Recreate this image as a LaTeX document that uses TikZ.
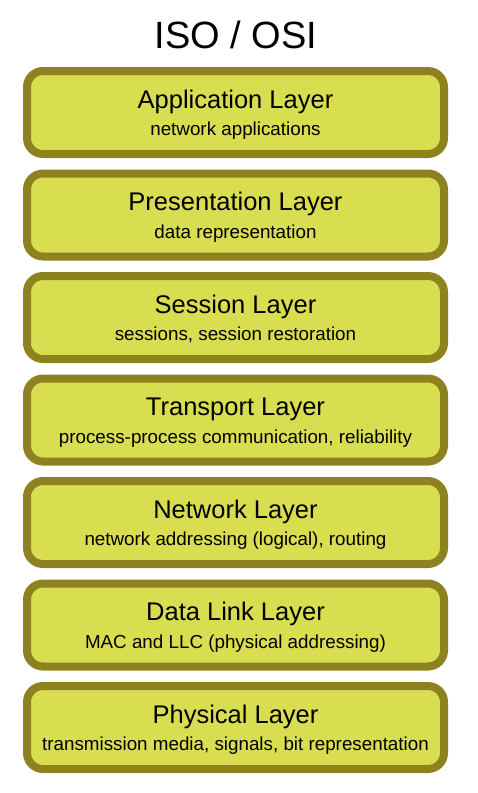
\documentclass[tikz,border=0pt]{standalone}
\usepackage{fontspec}
\setmainfont{Liberation Sans}
\definecolor{layerfill}{RGB}{217,221,80}
\definecolor{layerborder}{RGB}{142,130,32}
\begin{document}
\begin{tikzpicture}[x=1pt,y=-1pt,
  layerbox/.style={draw=layerborder,fill=layerfill,line width=8pt,rounded corners=16pt,
    minimum width=417pt,minimum height=83pt,inner sep=0pt},
  layertitle/.style={font=\fontsize{25.5}{28}\selectfont,anchor=base,inner sep=0pt},
  layersub/.style={font=\fontsize{18.8}{21}\selectfont,anchor=base,inner sep=0pt}]
\useasboundingbox (0,0) rectangle (478,793);
\node[font=\fontsize{38}{44}\selectfont,anchor=base,inner sep=0pt] (title) at (236,48) {ISO / OSI};
\foreach \i/\n/\t/\s in {
  0/app/Application Layer/network applications,
  1/pres/Presentation Layer/data representation,
  2/sess/Session Layer/{sessions, session restoration},
  3/trans/Transport Layer/{process-process communication, reliability},
  4/net/Network Layer/{network addressing (logical), routing},
  5/dl/Data Link Layer/MAC and LLC (physical addressing),
  6/phys/Physical Layer/{transmission media, signals, bit representation}} {
  \node[layerbox] (\n) at (235.5,112.5+102.5*\i) {};
  \node[layertitle] (\n-t) at ([yshift=4.5pt]\n.center) {\t};
  \node[layersub] (\n-s) at ([yshift=-23pt]\n.center) {\s};
}
\end{tikzpicture}
\end{document}
